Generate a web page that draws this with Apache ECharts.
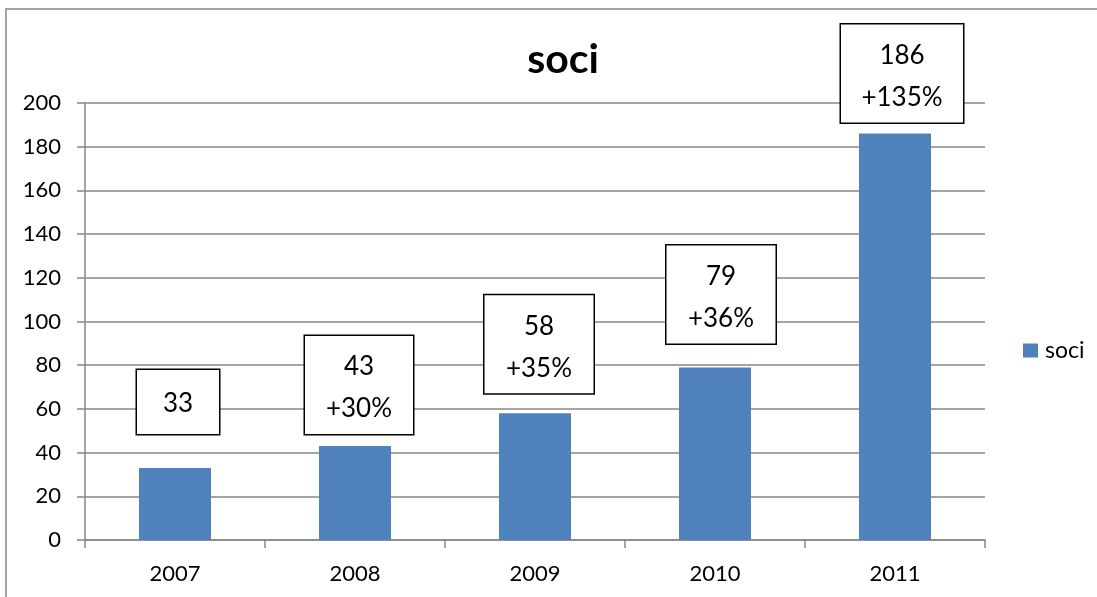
<!DOCTYPE html>
<html>
<head>
<meta charset="utf-8">
<script src="https://cdn.jsdelivr.net/npm/echarts@6/dist/echarts.min.js"></script>
<style>
html,body{margin:0;padding:0;background:#fff;}
#chart{width:1097px;height:597px;}
</style>
</head>
<body>
<div id="chart"></div>
<script>
var categories = ['2007', '2008', '2009', '2010', '2011'];
var soci = [33, 43, 58, 79, 186];
var growth = ['', '+30%', '+35%', '+36%', '+135%'];
var yTicks = [0, 20, 40, 60, 80, 100, 120, 140, 160, 180, 200];

var FONT = 'Lato, "Open Sans", sans-serif';
var labelLayout = [
  {dx: 3, dist: 34, w: 42},
  {dx: 4, dist: 12, w: 68},
  {dx: 4, dist: 20, w: 69},
  {dx: 6, dist: 24, w: 69},
  {dx: 7, dist: 11, w: 82}
];

var chart = echarts.init(document.getElementById('chart'));
var option = {
  backgroundColor: '#fff',
  animation: false,
  graphic: [{
    type: 'rect',
    shape: {x: 6, y: 9, width: 1300, height: 800},
    style: {fill: 'none', stroke: '#868686', lineWidth: 1.5},
    silent: true
  }],
  title: {
    text: 'soci',
    left: 558, top: 34,
    textAlign: 'center',
    textStyle: {fontFamily: FONT, fontSize: 41, fontWeight: 'bold', color: '#000'}
  },
  legend: {
    data: ['soci'],
    left: 1018, top: 334,
    itemWidth: 15, itemHeight: 14,
    itemGap: 5,
    icon: 'rect',
    textStyle: {fontFamily: FONT, fontSize: 23, color: '#000', padding: [0, 0, 0, 2]}
  },
  grid: {left: 85, right: 112, top: 103, bottom: 57, containLabel: false},
  xAxis: {
    type: 'category',
    data: categories,
    axisLine: {lineStyle: {color: '#868686', width: 1.5}},
    axisTick: {show: true, length: 8, alignWithLabel: false, lineStyle: {color: '#868686', width: 1.5}},
    axisLabel: {fontFamily: FONT, fontSize: 22, color: '#000', margin: 23},
    splitLine: {show: false}
  },
  yAxis: {
    type: 'value',
    min: yTicks[0], max: yTicks[yTicks.length - 1], interval: yTicks[1] - yTicks[0],
    axisLine: {show: true, lineStyle: {color: '#868686', width: 1.5}},
    axisTick: {show: true, length: 8, lineStyle: {color: '#868686', width: 1.5}},
    axisLabel: {fontFamily: FONT, fontSize: 22, color: '#000', margin: 24},
    splitLine: {show: true, lineStyle: {color: '#868686', width: 1.5}}
  },
  series: [{
    name: 'soci',
    type: 'bar',
    barWidth: '40%',
    itemStyle: {color: '#4F81BD'},
    data: soci.map(function (v, i) {
      var L = labelLayout[i];
      var txt = growth[i] ? (v + '\n' + growth[i]) : String(v);
      return {
        value: v,
        label: {
          show: true,
          position: 'top',
          distance: L.dist,
          offset: [L.dx, 0],
          formatter: txt,
          fontFamily: FONT,
          fontSize: 26,
          color: '#000',
          lineHeight: 42,
          width: L.w,
          align: 'center',
          backgroundColor: '#fff',
          borderColor: '#000',
          borderWidth: 1.5,
          padding: growth[i] ? [10, 20, 4, 20] : [13, 20, 9, 20]
        }
      };
    })
  }]
};
chart.setOption(option);
</script>
</body>
</html>
